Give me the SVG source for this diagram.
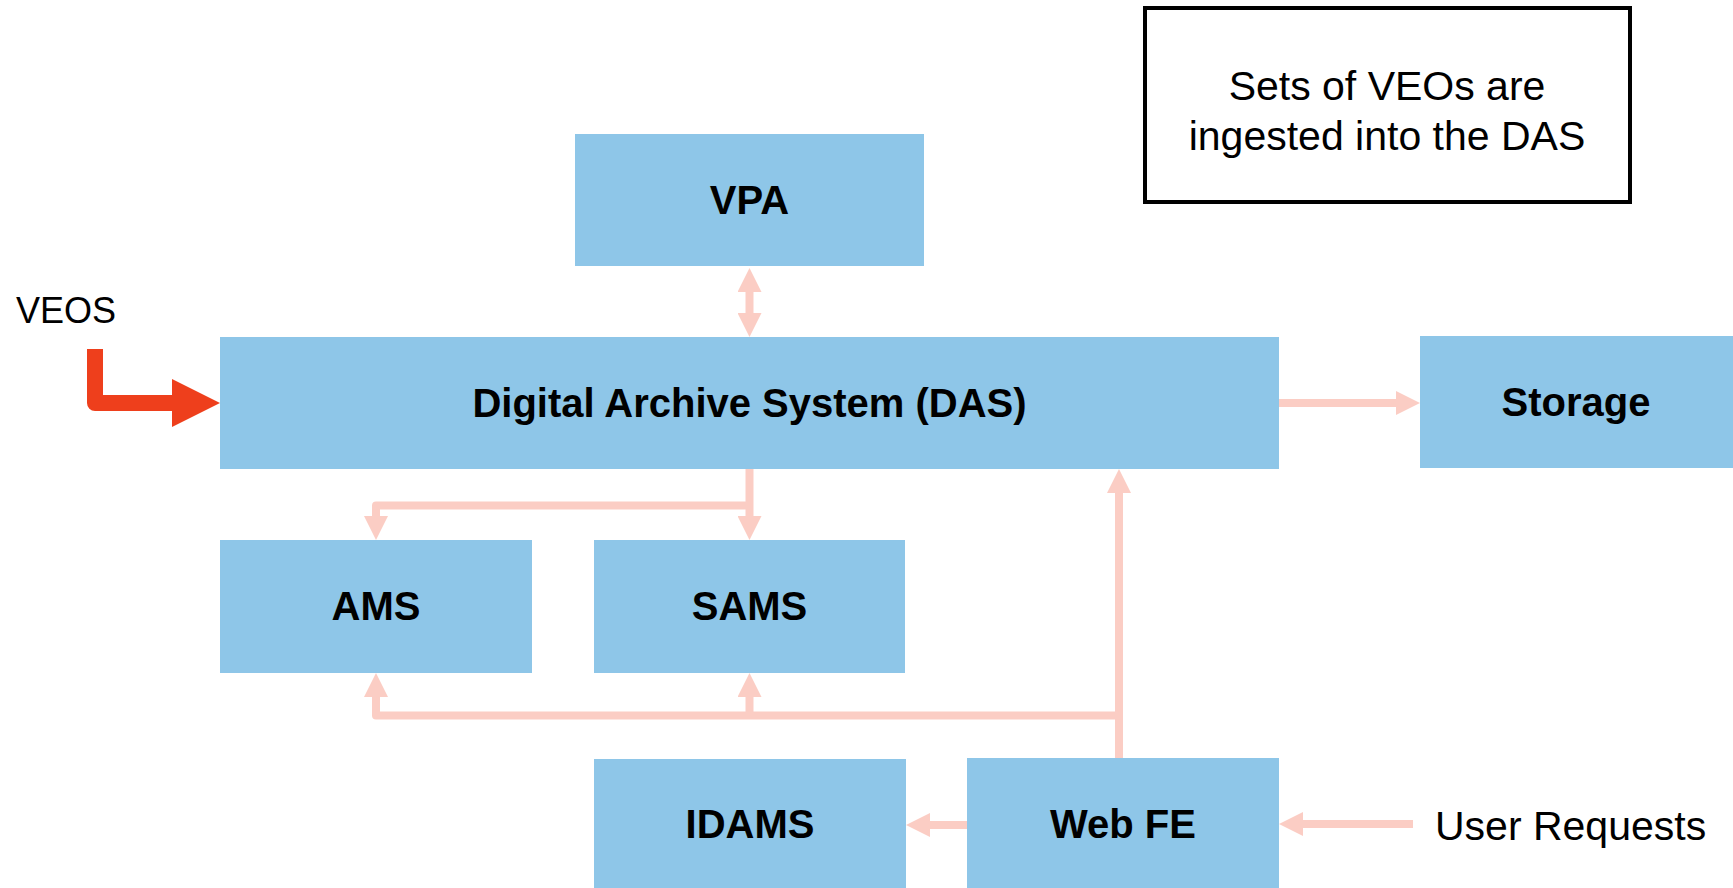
<svg xmlns="http://www.w3.org/2000/svg" width="1733" height="888" viewBox="0 0 1733 888">
<style>
.box{fill:#8EC6E8}
.lbl{font-family:"Liberation Sans",Arial,sans-serif;font-weight:bold;font-size:40px;fill:#000;text-anchor:middle}
.txt{font-family:"Liberation Sans",Arial,sans-serif;fill:#000}
.con{fill:none;stroke:#FBCDC4;stroke-width:8;stroke-linejoin:round}
</style>
<defs>
<marker id="ah" viewBox="0 0 24 24" markerWidth="24" markerHeight="24" markerUnits="userSpaceOnUse" refX="4" refY="12" orient="auto-start-reverse">
<path d="M0,0 L24,12 L0,24 z" fill="#FBCDC4"/>
</marker>
</defs>
<rect width="1733" height="888" fill="#fff"/>
<g id="connectors">
<path class="con" d="M749.5,288 V317" marker-start="url(#ah)" marker-end="url(#ah)"/>
<path class="con" d="M749.5,469 V520" marker-end="url(#ah)"/>
<path class="con" d="M749.5,505.5 H376 V520" marker-end="url(#ah)"/>
<path class="con" d="M1119,715.5 H376 V693" marker-end="url(#ah)"/>
<path class="con" d="M749.5,715.5 V693" marker-end="url(#ah)"/>
<path class="con" d="M1119,758 V489" marker-end="url(#ah)"/>
<path class="con" d="M1279,403 H1400" marker-end="url(#ah)"/>
<path class="con" d="M967,825 H926" marker-end="url(#ah)"/>
<path class="con" d="M1413,824 H1299" marker-end="url(#ah)"/>
</g>
<g id="veos-arrow">
<path d="M95,349 V403 H173" fill="none" stroke="#EE3F1C" stroke-width="16" stroke-linejoin="round"/>
<polygon points="172,379 220,403 172,427" fill="#EE3F1C"/>
<text class="txt" x="16" y="323" font-size="36">VEOS</text>
</g>
<g id="vpa"><rect class="box" x="575" y="134" width="349" height="132"/><text class="lbl" x="749.5" y="214">VPA</text></g>
<g id="das"><rect class="box" x="220" y="337" width="1059" height="132"/><text class="lbl" x="749.5" y="417">Digital Archive System (DAS)</text></g>
<g id="storage"><rect class="box" x="1420" y="336" width="313" height="132"/><text class="lbl" x="1576" y="416">Storage</text></g>
<g id="ams"><rect class="box" x="220" y="540" width="312" height="133"/><text class="lbl" x="376" y="620">AMS</text></g>
<g id="sams"><rect class="box" x="594" y="540" width="311" height="133"/><text class="lbl" x="749.5" y="620">SAMS</text></g>
<g id="idams"><rect class="box" x="594" y="759" width="312" height="129"/><text class="lbl" x="750" y="838">IDAMS</text></g>
<g id="webfe"><rect class="box" x="967" y="758" width="312" height="130"/><text class="lbl" x="1123" y="838">Web FE</text></g>
<g id="user-requests"><text class="txt" x="1435" y="840" font-size="41">User Requests</text></g>
<g id="note">
<rect x="1145" y="8" width="485" height="194" fill="#fff" stroke="#000" stroke-width="4"/>
<text class="txt" x="1387" y="100" font-size="41" text-anchor="middle">Sets of VEOs are</text>
<text class="txt" x="1387" y="150" font-size="41" text-anchor="middle">ingested into the DAS</text>
</g>
</svg>
